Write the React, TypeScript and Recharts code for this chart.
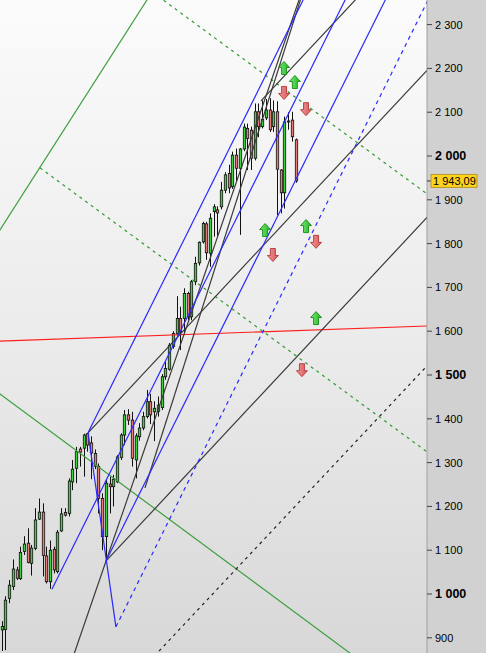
import React from 'react';
import { ComposedChart, Bar, Scatter, XAxis, YAxis, ReferenceLine } from 'recharts';

// weekly candles, index 0..79
const open = [
  918, 919, 990, 1017, 1055, 1035, 1097, 1116, 1070, 1104,
  1171, 1187, 1087, 1028, 1102, 1051, 1144, 1186, 1184, 1256,
  1287, 1331, 1333, 1366, 1345, 1321, 1291, 1218, 1131, 1251,
  1245, 1256, 1312, 1363, 1409, 1397, 1306, 1359, 1379, 1405,
  1439, 1416, 1417, 1426, 1496, 1513, 1565, 1595, 1629, 1629,
  1686, 1633, 1713, 1756, 1804, 1845, 1778, 1873, 1877, 1884,
  1922, 1960, 1930, 2002, 1972, 2016, 2063, 2059, 1995, 2101,
  2067, 2087, 2105, 2067, 2101, 1968, 1916, 2078, 2082, 2037,
];
const high = [
  938, 995, 1032, 1079, 1062, 1108, 1132, 1150, 1112, 1196,
  1218, 1207, 1108, 1122, 1108, 1146, 1196, 1196, 1264, 1306,
  1336, 1336, 1366, 1368, 1360, 1330, 1298, 1230, 1260, 1268,
  1272, 1317, 1367, 1420, 1422, 1416, 1367, 1390, 1416, 1466,
  1457, 1440, 1451, 1502, 1530, 1573, 1600, 1680, 1656, 1698,
  1690, 1717, 1770, 1805, 1850, 1850, 1869, 1890, 1885, 1941,
  1963, 1980, 2010, 2017, 2018, 2074, 2074, 2067, 2120, 2120,
  2127, 2130, 2132, 2127, 2125, 1970, 2090, 2100, 2101, 2040,
];
const low = [
  870, 872, 979, 1009, 1032, 1032, 1089, 1070, 1042, 1100,
  1169, 1040, 1024, 1012, 1047, 1047, 1142, 1177, 1177, 1237,
  1253, 1291, 1268, 1325, 1262, 1285, 1184, 1100, 1075, 1184,
  1200, 1253, 1306, 1340, 1386, 1291, 1264, 1350, 1374, 1401,
  1388, 1349, 1405, 1420, 1489, 1510, 1560, 1590, 1557, 1595,
  1625, 1625, 1705, 1750, 1800, 1763, 1747, 1816, 1818, 1878,
  1915, 1915, 1925, 1943, 1820, 2011, 1968, 1968, 1990, 2043,
  2063, 2082, 2055, 2055, 1865, 1869, 1880, 2060, 2033, 1939,
];
const close = [
  926, 986, 1020, 1057, 1036, 1095, 1114, 1072, 1105, 1169,
  1187, 1088, 1028, 1100, 1055, 1141, 1183, 1180, 1258, 1285,
  1325, 1324, 1363, 1340, 1322, 1292, 1218, 1131, 1253, 1245,
  1262, 1313, 1363, 1409, 1397, 1310, 1361, 1379, 1405, 1439,
  1409, 1424, 1431, 1496, 1515, 1568, 1595, 1629, 1599, 1686,
  1633, 1713, 1755, 1803, 1846, 1779, 1858, 1884, 1870, 1922,
  1957, 1927, 2002, 1972, 2016, 2066, 2040, 1995, 2101, 2067,
  2084, 2105, 2060, 2101, 1970, 1916, 2078, 2080, 2044, 1943.09,
];
const lastClose = 1943.09;

const priceTicks = [900, 1000, 1100, 1200, 1300, 1400, 1500, 1600, 1700, 1800, 1900, 2000, 2100, 2200, 2300];

// drawn objects: [i1, v1, i2, v2]
const blueSolid = [
  [23.2, 1368, 82, 2373],
  [13.5, 1011, 93, 2368],
  [28.0, 1075, 104.5, 2380],
  [23.2, 1368, 30.7, 925],
];
const blueDashed = [[30.7, 925, 116, 2380]];
const blackSolid = [
  [19, 852, 81, 2383],
  [38.5, 1242, 81, 2375],
  [23.2, 1368, 116, 2211],
  [28.0, 1075, 116, 1875],
  [69.7, 2126, 96, 2365],
];
const blackDotted = [[41, 858, 116, 1536]];
const greenSolid = [
  [-1, 1824, 40, 2369],
  [-1, 1460, 96, 850],
];
const greenDotted = [
  [42, 2365, 116, 1903],
  [10.3, 1973, 116, 1314],
];
const redSolid = [[-1, 1577.4, 116, 1612.4]];

const upArrows = [[75.9, 2201], [78.8, 2169], [70.8, 1831], [81.8, 1840], [84.5, 1630]];
const downArrows = [[75.9, 2144], [81.8, 2107], [72.9, 1774], [84.5, 1804], [80.7, 1511]];

const candles = open.map((o, i) => ({
  i, o, h: high[i], l: low[i], c: close[i], range: [low[i], high[i]],
}));
const upData = upArrows.map(([i, v]) => ({ i, v }));
const downData = downArrows.map(([i, v]) => ({ i, v }));

const FONT = '"Liberation Sans", Arial, sans-serif';

const Candle = (props: any) => {
  const { x, y, width, height, payload } = props;
  if (x == null || !payload) return null;
  const { o, h, l, c } = payload;
  const cx = Math.round(x + width / 2) + 0.5;
  const k = height / (h - l || 1);
  const yO = y + (h - o) * k;
  const yC = y + (h - c) * k;
  const top = Math.min(yO, yC);
  const bh = Math.max(Math.abs(yC - yO), 1);
  const up = c >= o;
  return (
    <g>
      <line x1={cx} x2={cx} y1={y} y2={y + height} stroke="#111" strokeWidth={1} />
      <rect x={cx - 1.2} y={top} width={2.4} height={bh}
        fill={up ? '#3fcf3f' : '#e57b7b'} stroke="#111" strokeWidth={0.8} />
    </g>
  );
};

const arrowPts = [[0, -6.5], [5.5, -0.5], [2.5, -0.5], [2.5, 6.5], [-2.5, 6.5], [-2.5, -0.5], [-5.5, -0.5]];
const Arrow = (props: any) => {
  const { cx, cy, up } = props;
  if (cx == null) return null;
  const s = up ? 1 : -1;
  const pts = arrowPts.map(([dx, dy]) => `${cx + dx},${cy + dy * s}`).join(' ');
  return (
    <polygon points={pts} fill={up ? 'url(#gUp)' : 'url(#gDown)'}
      stroke={up ? '#168a16' : '#b03a3a'} strokeWidth={0.9} />
  );
};

const fmt = (v: number) =>
  v >= 1000 ? `${Math.floor(v / 1000)} ${String(v % 1000).padStart(3, '0')}` : String(v);

const AxisTick = (props: any) => {
  const { x, y, payload } = props;
  const v = payload.value;
  if (v === lastClose) {
    return (
      <g>
        <line x1={x - 8} x2={x - 3} y1={y} y2={y} stroke="#333" />
        <rect x={x - 4} y={y - 6.5} width={46} height={13} fill="#ffd21c" stroke="#b89a2a" />
        <text x={x - 2} y={y} dy={4} fontSize={11} fontFamily={FONT} fill="#000">1 943,09</text>
      </g>
    );
  }
  const bold = v % 500 === 0;
  return (
    <g>
      <line x1={x - 8} x2={x - 3} y1={y} y2={y} stroke="#444" />
      <text x={x} y={y} dy={4} fontSize={bold ? 12.5 : 11} fontWeight={bold ? 'bold' : 'normal'}
        fontFamily={FONT} fill="#000">{fmt(v)}</text>
    </g>
  );
};

const seg = (s: number[], key: string, stroke: string, dash?: string) => (
  <ReferenceLine key={key} segment={[{ x: s[0], y: s[1] }, { x: s[2], y: s[3] }]}
    stroke={stroke} strokeWidth={1.2} strokeDasharray={dash} ifOverflow="hidden" />
);

export default function App() {
  return (
    <div style={{ position: 'absolute', left: 0, top: 0, width: 486, height: 653, overflow: 'hidden' }}>
      <div style={{ position: 'absolute', left: 0, top: 0, width: 427, height: 653,
        background: 'linear-gradient(to bottom, #fbfbfb 0%, #ececec 50%, #d8d8d8 100%)' }} />
      <div style={{ position: 'absolute', left: 427, top: 0, width: 59, height: 653, background: '#d1d1d1' }} />
      <div style={{ position: 'absolute', left: 0, top: 0 }}>
        <ComposedChart width={486} height={653} data={candles} margin={{ top: 0, right: 0, bottom: 0, left: 0 }}>
          <defs>
            <linearGradient id="gUp" x1="0" y1="0" x2="1" y2="0">
              <stop offset="0%" stopColor="#7be87b" />
              <stop offset="100%" stopColor="#1fb51f" />
            </linearGradient>
            <linearGradient id="gDown" x1="0" y1="0" x2="1" y2="0">
              <stop offset="0%" stopColor="#f09a9a" />
              <stop offset="100%" stopColor="#d85454" />
            </linearGradient>
          </defs>
          <XAxis dataKey="i" type="number" domain={[-0.46, 114.32]} allowDataOverflow hide />
          <YAxis orientation="right" type="number" width={59} domain={[865.3, 2356.2]} allowDataOverflow
            ticks={[...priceTicks, lastClose]} interval={0} tick={<AxisTick />} tickLine={false}
            tickSize={6} tickMargin={2} axisLine={{ stroke: '#a0a0a0' }} />
          {greenSolid.map((s, k) => seg(s, `gs${k}`, '#3f9f3f'))}
          {greenDotted.map((s, k) => seg(s, `gd${k}`, '#2f9a2f', '3 4'))}
          {redSolid.map((s, k) => seg(s, `r${k}`, '#ff1f1f'))}
          {blackDotted.map((s, k) => seg(s, `kd${k}`, '#222', '3 4'))}
          {blackSolid.map((s, k) => seg(s, `ks${k}`, '#3a3a3a'))}
          {blueSolid.map((s, k) => seg(s, `bs${k}`, '#2a2aff'))}
          {blueDashed.map((s, k) => seg(s, `bd${k}`, '#2a2aff', '4 4'))}
          <Bar dataKey="range" barSize={3} shape={<Candle />} isAnimationActive={false} />
          <Scatter data={upData} dataKey="v" shape={(p: any) => <Arrow {...p} up />} isAnimationActive={false} />
          <Scatter data={downData} dataKey="v" shape={(p: any) => <Arrow {...p} up={false} />} isAnimationActive={false} />
        </ComposedChart>
      </div>
    </div>
  );
}
